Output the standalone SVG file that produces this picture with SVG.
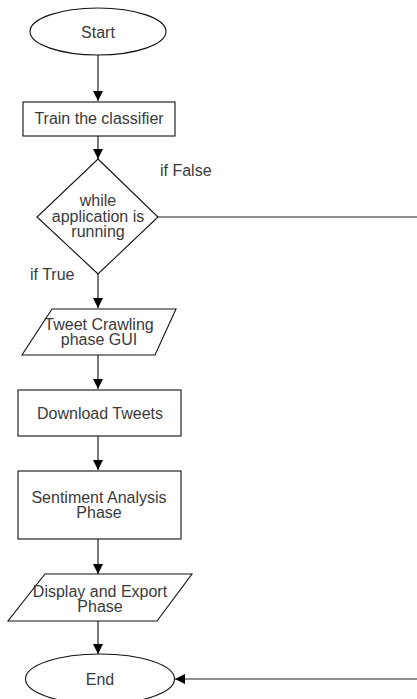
<svg xmlns="http://www.w3.org/2000/svg" width="417" height="699" viewBox="0 0 417 699">
<style>
.s{fill:#fff;stroke:#111;stroke-width:1.1}
.c{fill:none;stroke:#222;stroke-width:1.2}
text{font-family:"Liberation Sans",Arial,sans-serif;font-size:16px;fill:#3a3a3a;text-anchor:middle}
.l{text-anchor:start}
</style>
<defs>
<marker id="a" viewBox="0 0 10 10" refX="10" refY="5" markerWidth="10" markerHeight="10" markerUnits="userSpaceOnUse" orient="auto">
<path d="M0,0 L10,5 L0,10 Z" fill="#000"/>
</marker>
</defs>
<rect width="417" height="699" fill="#fff"/>
<g id="connectors">
<path class="c" d="M98,55 V101" marker-end="url(#a)"/>
<path class="c" d="M98,136 V159" marker-end="url(#a)"/>
<path class="c" d="M98,274 V308" marker-end="url(#a)"/>
<path class="c" d="M98,355 V389" marker-end="url(#a)"/>
<path class="c" d="M98,436 V470" marker-end="url(#a)"/>
<path class="c" d="M98,539 V574" marker-end="url(#a)"/>
<path class="c" d="M98,621 V654" marker-end="url(#a)"/>
<path class="c" d="M158,217 H417"/>
<path class="c" d="M417,679 H175" marker-end="url(#a)"/>
<text class="l" x="160" y="176">if False</text>
<text class="l" x="30" y="280">if True</text>
</g>
<g id="start">
<ellipse class="s" cx="98" cy="31.5" rx="68" ry="23.5"/>
<text x="98" y="38">Start</text>
</g>
<g id="train">
<rect class="s" x="23" y="102" width="152" height="34"/>
<text x="99" y="124">Train the classifier</text>
</g>
<g id="decision">
<path class="s" d="M98,159 L158,217 L98,274 L37,217 Z"/>
<text x="98" y="206">while</text>
<text x="98" y="221.5">application is</text>
<text x="98" y="237">running</text>
</g>
<g id="crawl">
<path class="s" d="M52,309 H176 L155,355 H22 Z"/>
<text x="99" y="330">Tweet Crawling</text>
<text x="99" y="345">phase GUI</text>
</g>
<g id="download">
<rect class="s" x="18" y="390" width="163" height="46"/>
<text x="100" y="419">Download Tweets</text>
</g>
<g id="sentiment">
<rect class="s" x="18" y="471" width="163" height="68"/>
<text x="99" y="503">Sentiment Analysis</text>
<text x="99" y="518">Phase</text>
</g>
<g id="display">
<path class="s" d="M45,574 H192 L157,621 H8 Z"/>
<text x="100" y="597">Display and Export</text>
<text x="100" y="612">Phase</text>
</g>
<g id="end">
<ellipse class="s" cx="100" cy="679" rx="74.5" ry="25"/>
<text x="100" y="685">End</text>
</g>
</svg>
